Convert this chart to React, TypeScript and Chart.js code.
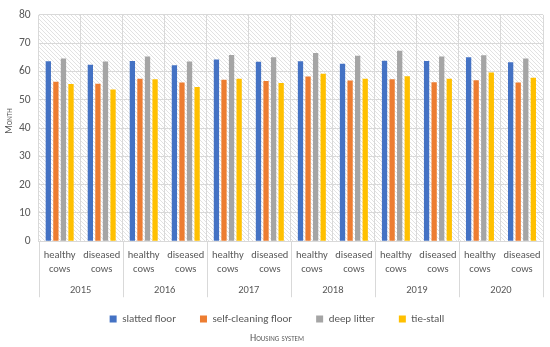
import React, { useEffect, useRef } from "react";
import { Chart, registerables } from "chart.js";

Chart.register(...registerables);

const years = ["2015", "2016", "2017", "2018", "2019", "2020"];
const categories: string[][] = years.flatMap(() => [["healthy", "cows"], ["diseased", "cows"]]);

const slattedFloor = [63.6, 62.4, 63.7, 62.2, 64.2, 63.4, 63.6, 62.7, 63.8, 63.7, 65.0, 63.3];
const selfCleaningFloor = [56.4, 55.7, 57.4, 56.1, 57.1, 56.6, 58.2, 56.8, 57.3, 56.2, 56.9, 56.1];
const deepLitter = [64.6, 63.5, 65.3, 63.5, 65.8, 65.0, 66.5, 65.6, 67.3, 65.3, 65.7, 64.6];
const tieStall = [55.6, 53.6, 57.3, 54.5, 57.4, 55.9, 59.2, 57.4, 58.3, 57.4, 59.6, 57.8];

const yTicks = [0, 10, 20, 30, 40, 50, 60, 70, 80];

const FONT = "Carlito, Lato, 'Open Sans', sans-serif";
const TEXT = "#595959";

function makeHatch(ctx: CanvasRenderingContext2D) {
  const c = document.createElement("canvas");
  c.width = 4;
  c.height = 4;
  const g = c.getContext("2d")!;
  g.fillStyle = "#ffffff";
  g.fillRect(0, 0, 4, 4);
  g.fillStyle = "#e2e2e2";
  for (let i = 0; i < 4; i++) g.fillRect(i, i, 1, 1);
  return ctx.createPattern(c, "repeat");
}

const bgPlugin = {
  id: "hatchBg",
  beforeDraw(chart: any) {
    const { ctx, chartArea } = chart;
    const p = makeHatch(ctx);
    if (!p) return;
    ctx.save();
    ctx.fillStyle = p;
    ctx.fillRect(chartArea.left, chartArea.top, chartArea.right - chartArea.left, chartArea.bottom - chartArea.top);
    ctx.restore();
  },
};

const yearPlugin = {
  id: "yearRow",
  afterDraw(chart: any) {
    const { ctx, chartArea } = chart;
    const xs = chart.scales.x;
    const n = categories.length;
    const w = (chartArea.right - chartArea.left) / n;
    ctx.save();
    ctx.strokeStyle = "#d9d9d9";
    ctx.lineWidth = 1;
    for (let i = 0; i <= years.length; i++) {
      const x = Math.round(xs.getPixelForValue(i * 2) - w / 2) + 0.5;
      ctx.beginPath();
      ctx.moveTo(x, chartArea.bottom);
      ctx.lineTo(x, chartArea.bottom + 56);
      ctx.stroke();
    }
    ctx.fillStyle = TEXT;
    ctx.font = `10.5px ${FONT}`;
    ctx.textAlign = "center";
    ctx.textBaseline = "middle";
    years.forEach((y, i) => {
      const cx = (xs.getPixelForValue(i * 2) + xs.getPixelForValue(i * 2 + 1)) / 2;
      ctx.fillText(y, cx, chartArea.bottom + 49);
    });
    ctx.save();
    ctx.translate(9, (chartArea.top + chartArea.bottom) / 2 - 7);
    ctx.rotate(-Math.PI / 2);
    ctx.font = `small-caps 10px ${FONT}`;
    ctx.fillText("Month", 0, 0);
    ctx.restore();
    ctx.restore();
  },
};

export default function App() {
  const ref = useRef<HTMLCanvasElement | null>(null);
  useEffect(() => {
    if (!ref.current) return;
    const mk = (label: string, data: number[], color: string) => ({
      label,
      data,
      backgroundColor: color,
      borderWidth: 0,
      categoryPercentage: 0.72,
      barPercentage: 0.7,
    });
    const chart = new Chart(ref.current, {
      type: "bar",
      data: {
        labels: categories,
        datasets: [
          mk("slatted floor", slattedFloor, "#4472C4"),
          mk("self-cleaning floor", selfCleaningFloor, "#ED7D31"),
          mk("deep litter", deepLitter, "#A5A5A5"),
          mk("tie-stall", tieStall, "#FFC000"),
        ],
      },
      options: {
        responsive: false,
        animation: false,
        layout: { padding: { left: 11, right: 7, top: -6, bottom: 0 } },
        plugins: {
          legend: {
            position: "bottom",
            labels: {
              boxWidth: 7,
              boxHeight: 7,
              padding: 24,
              color: TEXT,
              font: { size: 11, family: FONT },
            },
          },
          title: {
            display: true,
            position: "bottom",
            text: "Housing system",
            color: TEXT,
            font: { size: 10, family: FONT, weight: "small-caps" as any },
            padding: { top: -2.5, bottom: 3 },
          },
          tooltip: { enabled: false },
        },
        scales: {
          x: {
            grid: { color: "#d9d9d9", offset: true, drawTicks: false },
            border: { color: "#d9d9d9" },
            ticks: {
              color: TEXT,
              font: { size: 10.5, family: FONT, lineHeight: 1.25 },
              maxRotation: 0,
              autoSkip: false,
              padding: 8,
            },
            afterFit(scale: any) {
              scale.height += 6;
            },
          },
          y: {
            min: 0,
            max: 80,
            afterBuildTicks(scale: any) {
              scale.ticks = yTicks.map((v) => ({ value: v }));
            },
            grid: { color: "#d9d9d9", drawTicks: false },
            border: { display: false },
            ticks: {
              color: TEXT,
              font: { size: 11.5, family: FONT },
              padding: 8,
            },
          },
        },
      },
      plugins: [bgPlugin, yearPlugin],
    });
    return () => chart.destroy();
  }, []);
  return (
    <div style={{ position: "fixed", left: 0, top: 0, width: 550, height: 347, background: "#fff" }}>
      <canvas ref={ref} width={550} height={347} />
    </div>
  );
}
